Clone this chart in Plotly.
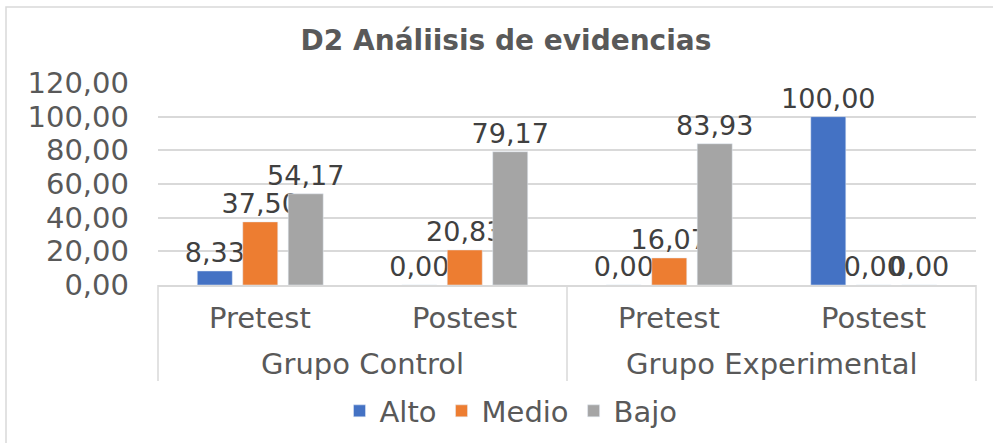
import plotly.graph_objects as go

groups = ["Grupo Control", "Grupo Control", "Grupo Experimental", "Grupo Experimental"]
phases = ["Pretest", "Postest", "Pretest", "Postest"]
series_names = ["Alto", "Medio", "Bajo"]
alto = [8.33, 0.00, 0.00, 100.00]
medio = [37.50, 20.83, 16.07, 0.00]
bajo = [54.17, 79.17, 83.93, 0.00]
colors = ["#4472C4", "#ED7D31", "#A5A5A5"]
y_ticks = [0, 20, 40, 60, 80, 100, 120]
y_ticktext = ["0,00", "20,00", "40,00", "60,00", "80,00", "100,00", "120,00"]

FONT = "DejaVu Sans"
TXT = "#595959"
GRID = "#D9D9D9"

fig = go.Figure()
for name, vals, col in zip(series_names, [alto, medio, bajo], colors):
    fig.add_trace(go.Bar(
        name=name, x=[groups, phases], y=vals, marker_color=col,
        texttemplate="%{y:.2f}", textposition="outside", cliponaxis=False,
        constraintext="none",
        textfont=dict(family=FONT, size=27, color="#404040"),
    ))

W, H = 993, 443
L, R, T, B = 158, 17, 83, 158
pw, ph = W - L - R, H - T - B

def px_x(p):
    return (p - L) / pw

def px_y(p):
    return (H - B - p) / ph

fig.update_layout(
    width=W, height=H,
    margin=dict(l=L, r=R, t=T, b=B, autoexpand=False),
    paper_bgcolor="white", plot_bgcolor="white",
    barmode="group", bargap=0.333, bargroupgap=0.23,
    separators=",.",
    title=dict(text="<b>D2 Análiisis de evidencias</b>", x=px_x(506), xref="paper",
               xanchor="center", y=1 - 40 / H, yanchor="middle",
               font=dict(family=FONT, size=28, color=TXT)),
    font=dict(family=FONT, size=27, color=TXT),
    showlegend=True,
    legend=dict(orientation="h", x=px_x(511), xanchor="center", y=px_y(411),
                yanchor="middle", font=dict(family=FONT, size=29, color=TXT),
                itemwidth=30, traceorder="normal"),
    xaxis=dict(type="multicategory", showline=True, linecolor=GRID, linewidth=1.5,
               showdividers=False, showticklabels=False, ticks=""),
    yaxis=dict(range=[0, 120], tickvals=y_ticks, ticktext=y_ticktext,
               showgrid=True, gridcolor=GRID, gridwidth=1.5,
               zeroline=False, showline=False, ticks="",
               ticklabelstandoff=28,
               tickfont=dict(family=FONT, size=29, color=TXT)),
)

# category labels (inner and outer levels) and divider lines of the category axis
n = len(phases)
for i, ph_name in enumerate(phases):
    fig.add_annotation(text=ph_name, xref="paper", yref="paper",
                       x=(i + 0.5) / n, y=px_y(318), xanchor="center", yanchor="middle",
                       showarrow=False, font=dict(family=FONT, size=29, color=TXT))
uniq_groups = list(dict.fromkeys(groups))
for g in uniq_groups:
    idx = [i for i, gg in enumerate(groups) if gg == g]
    fig.add_annotation(text=g, xref="paper", yref="paper",
                       x=(idx[0] + idx[-1] + 1) / 2 / n, y=px_y(364),
                       xanchor="center", yanchor="middle",
                       showarrow=False, font=dict(family=FONT, size=29, color=TXT))
bounds = [0] + [i for i in range(1, n) if groups[i] != groups[i - 1]] + [n]
for b in bounds:
    fig.add_shape(type="line", xref="paper", yref="paper",
                  x0=b / n, x1=b / n, y0=0, y1=px_y(381),
                  line=dict(color=GRID, width=1.5))

fig.add_shape(type="rect", xref="paper", yref="paper",
              x0=px_x(6), x1=px_x(1010), y0=px_y(460), y1=px_y(7),
              line=dict(color=GRID, width=1.5), fillcolor="rgba(0,0,0,0)", layer="below")

fig.write_html("out.html", config={"displayModeBar": False},
               post_script="document.body.style.margin='0';document.body.style.overflow='hidden';")
